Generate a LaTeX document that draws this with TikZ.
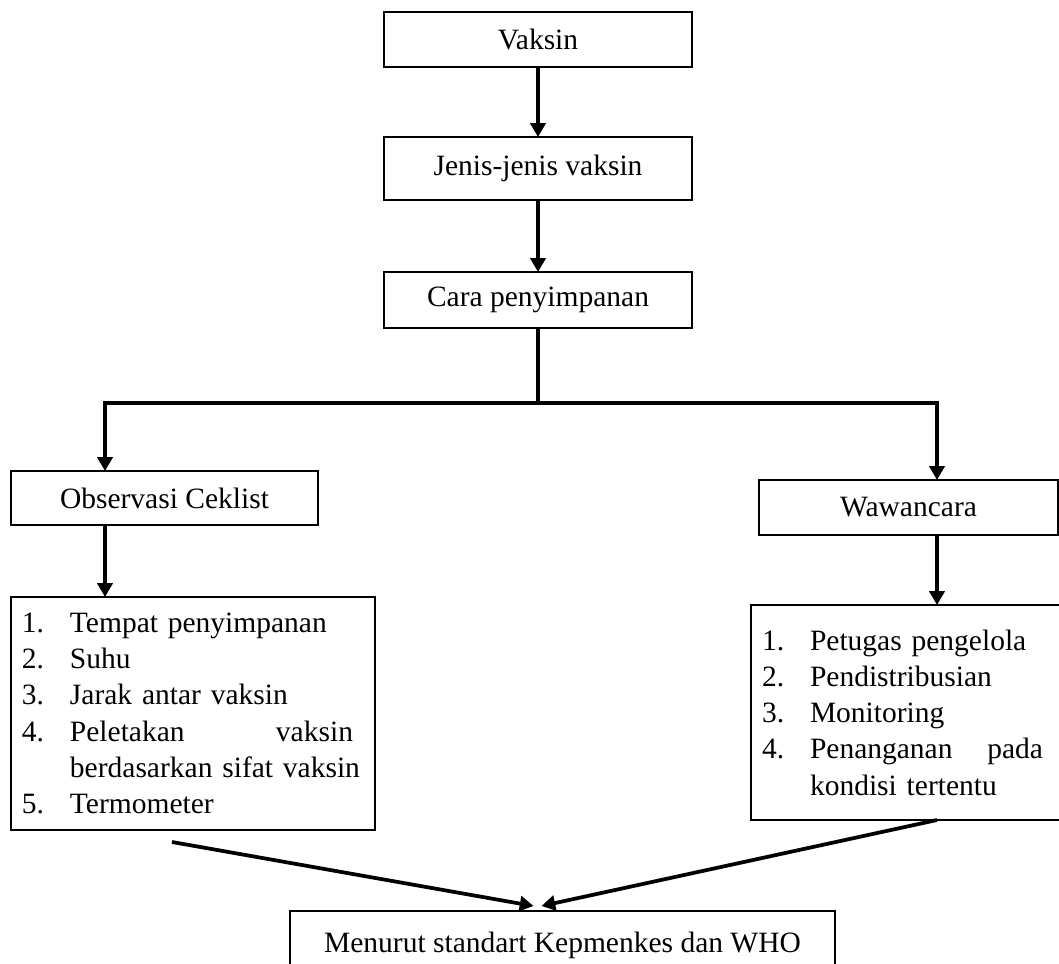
\documentclass[tikz,border=0pt]{standalone}
\usepackage{fontspec}
\setmainfont{Liberation Serif}
\usetikzlibrary{arrows.meta,calc}
\newcommand{\itm}[2]{\makebox[19.2pt][l]{#1}#2}
\begin{document}
\begin{tikzpicture}[x={(0.4pt,0pt)},y={(0pt,-0.4pt)},
 box/.style={draw, line width=0.9pt, inner sep=0pt, outer sep=0pt, font=\fontsize{11.8pt}{14.5pt}\selectfont},
 listbox/.style={box, align=left, inner xsep=4.4pt},
 arr/.style={line width=1.5pt, -{Triangle[width=6pt,length=5.5pt]}},
 ln/.style={line width=1.5pt}]
\useasboundingbox (0,0) rectangle (1059,964);
\node[box, minimum width=123.2pt, minimum height=22pt] (vaksin) at (538,39.5) {Vaksin};
\node[box, minimum width=123.2pt, minimum height=25.2pt] (jenis) at (538,168.5) {Jenis-jenis vaksin};
\node[box, minimum width=123.2pt, minimum height=22.4pt] (cara) at (538,300) {Cara penyimpanan};
\node[box, minimum width=122.8pt, minimum height=21.6pt] (obs) at (164.5,498) {Observasi Ceklist};
\node[box, minimum width=119.6pt, minimum height=22pt] (waw) at (908.5,507.5) {Wawancara};
\node[listbox, text width=136.8pt, minimum height=93.2pt] (llist) at (193,713.5) {%
\itm{1.}{Tempat penyimpanan}\\
\itm{2.}{Suhu}\\
\itm{3.}{Jarak antar vaksin}\\
\itm{4.}{\makebox[113.2pt][s]{Peletakan\hfill vaksin}}\\
\itm{}{berdasarkan sifat vaksin}\\
\itm{5.}{Termometer}};
\node[listbox, text width=116pt, minimum height=86pt] (rlist) at (907,712.5) {%
\itm{1.}{Petugas pengelola}\\
\itm{2.}{Pendistribusian}\\
\itm{3.}{Monitoring}\\
\itm{4.}{\makebox[93.2pt][s]{Penanganan\hfill pada}}\\
\itm{}{kondisi tertentu}};
\node[box, minimum width=218pt, minimum height=27.2pt] (bot) at (562.5,945) {Menurut standart Kepmenkes dan WHO};
\draw[arr] (vaksin.south) -- (jenis.north);
\draw[arr] (jenis.south) -- (cara.north);
\coordinate (jm) at (538,403);
\coordinate (jl) at (105,403);
\coordinate (jr) at (937,403);
\draw[ln] (cara.south) -- (jm);
\draw[arr] (jm) -- (jl) -- (jl |- obs.north);
\draw[arr] (jm) -- (jr) -- (jr |- waw.north);
\draw[arr] (jl |- obs.south) -- (jl |- llist.north);
\draw[arr] (jr |- waw.south) -- (jr |- rlist.north);
\draw[arr] ($(llist.south)+(-21,12)$) -- ($(bot.north)+(-29,-5)$);
\draw[arr] ($(rlist.south)+(30,0)$) -- ($(bot.north)+(-21,-5)$);
\end{tikzpicture}
\end{document}
